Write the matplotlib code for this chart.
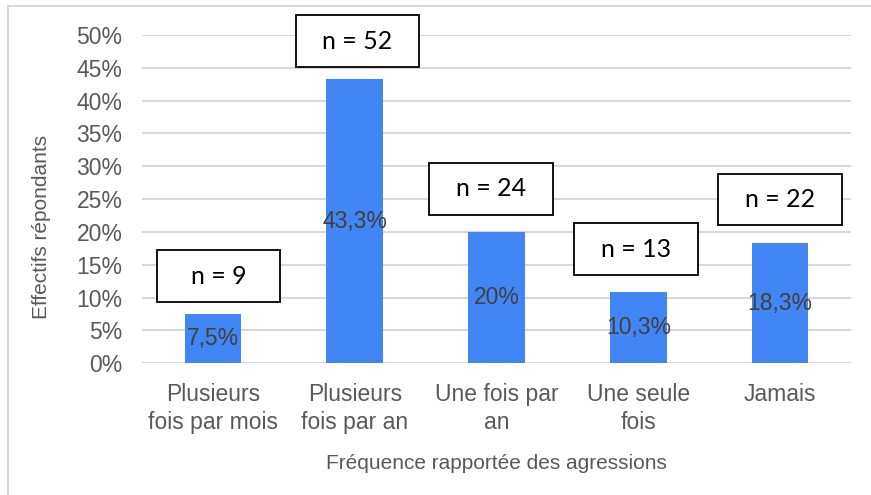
import matplotlib
matplotlib.use("Agg")
import matplotlib.pyplot as plt
from matplotlib.patches import Rectangle
from matplotlib.lines import Line2D
import numpy as np

# ---- data ----
categories = ["Plusieurs\nfois par mois", "Plusieurs\nfois par an", "Une fois par\nan",
              "Une seule\nfois", "Jamais"]
values = [7.5, 43.3, 20.0, 10.8, 18.3]
value_labels = ["7,5%", "43,3%", "20%", "10,3%", "18,3%"]
n_counts = [9, 52, 24, 13, 22]
y_ticks = [0, 5, 10, 15, 20, 25, 30, 35, 40, 45, 50]
y_tick_labels = [f"{t}%" for t in y_ticks]
x_title = "Fréquence rapportée des agressions"
y_title = "Effectifs répondants"

# ---- layout (not data) ----
box_gap = [1.8, 1.8, 2.6, 2.6, 2.7]      # gap between bar top and box (% units)
box_dx = [0.04, 0.02, -0.04, -0.015, 0.0]  # horizontal box shift (category units)
box_w = 0.87
box_h = 7.9

BLUE = "#4285F4"
GRID = "#d9d9d9"
TICK = "#595959"
REG = ["Liberation Sans", "DejaVu Sans"]

fig = plt.figure(figsize=(8.71, 4.95), dpi=100)
ax = fig.add_axes([142 / 871, 1 - 363.3 / 495, (851 - 142) / 871, (363.3 - 35) / 495])

x = np.arange(len(categories))
bars = ax.bar(x, values, width=0.4, color=BLUE, zorder=3)

ax.set_xlim(-0.5, len(categories) - 0.5)
ax.set_ylim(0, 50)
ax.set_yticks(y_ticks)
ax.set_yticklabels(y_tick_labels, fontfamily=REG, fontsize=16.5, color=TICK)
ax.set_xticks(x)
ax.set_xticklabels(categories, fontfamily=REG, fontsize=16.5, color=TICK, linespacing=1.3)
ax.tick_params(axis="both", length=0)
ax.tick_params(axis="y", pad=14)
ax.tick_params(axis="x", pad=14)
ax.grid(axis="y", color=GRID, linewidth=1.5, zorder=0)
for s in ax.spines.values():
    s.set_visible(False)

# value labels in middle of bars
for xi, v, lab in zip(x, values, value_labels):
    ax.text(xi, v / 2, lab, ha="center", va="center", fontfamily=REG, fontsize=16.5,
            color="#404040", zorder=5)

# n boxes
for xi, v, n, g, dx in zip(x, values, n_counts, box_gap, box_dx):
    y0 = v + g
    ax.add_patch(Rectangle((xi + dx - box_w / 2, y0), box_w, box_h, facecolor="white",
                           edgecolor="black", linewidth=1.3, zorder=6, clip_on=False))
    ax.text(xi + dx, y0 + box_h / 2, f"n = {n}", ha="center", va="center",
            fontfamily=["Lato", "DejaVu Sans"], fontsize=18, color="black", zorder=7,
            clip_on=False)

# axis titles
ax.set_xlabel(x_title, fontfamily=REG, fontsize=15, color=TICK)
ax.xaxis.set_label_coords(0.5, (363.3 - 463) / 328.3)
ax.xaxis.label.set_va("center")
ax.set_ylabel(y_title, fontfamily=REG, fontsize=15, color=TICK)
ax.yaxis.set_label_coords((41.5 - 142) / 709, (363.3 - 226.5) / 328.3)
ax.yaxis.label.set_va("center")

# outer chart border (top and left visible)
fig.add_artist(Line2D([7.5 / 871, 1.0], [1 - 5.5 / 495, 1 - 5.5 / 495],
                      transform=fig.transFigure, color=GRID, linewidth=1.5))
fig.add_artist(Line2D([7.5 / 871, 7.5 / 871], [0, 1 - 5.5 / 495],
                      transform=fig.transFigure, color=GRID, linewidth=1.5))

fig.savefig("out.png", dpi=100, facecolor="white")
